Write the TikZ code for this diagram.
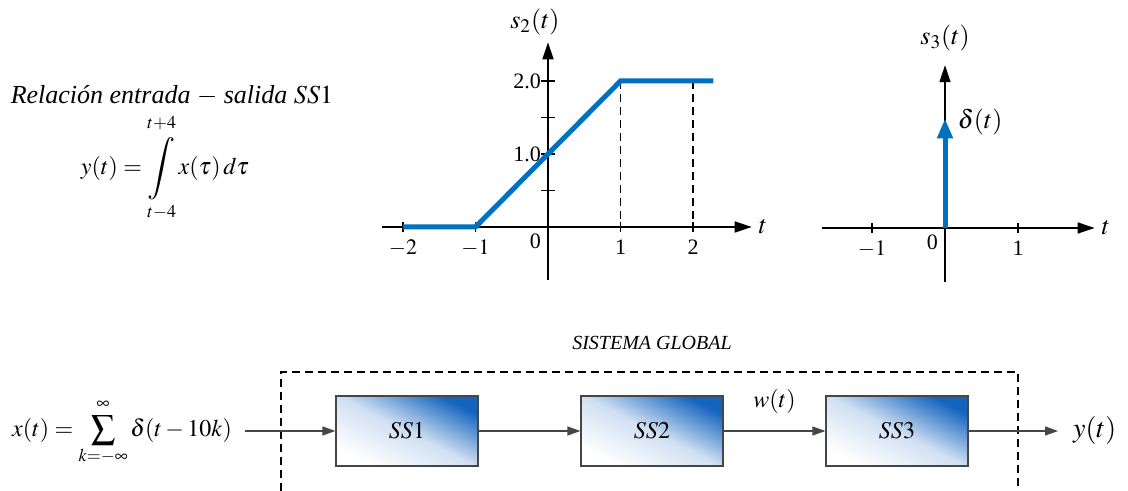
\documentclass[tikz,border=0pt]{standalone}
\usepackage{mathptmx}
\usepackage[no-math]{fontspec}
\setmainfont{Liberation Serif}
\usetikzlibrary{arrows.meta}
\definecolor{sigblue}{RGB}{0,112,192}
\definecolor{boxblue}{RGB}{20,100,190}
\definecolor{linegray}{RGB}{70,70,70}
\newcommand{\bigint}{\mathop{\vcenter{\hbox{\scalebox{1.3}{$\displaystyle\int$}}}}\limits}

\begin{document}
\begin{tikzpicture}[x=0.5pt, y=0.5pt, font=\fontsize{12}{14}\selectfont,
    axis/.style={line width=0.75pt, -{Triangle[length=8.5pt, width=5.5pt]}},
    tick/.style={line width=0.6pt},
    tlabel/.style={font=\fontsize{11}{13}\selectfont},
    flabel/.style={font=\fontsize{13}{15}\selectfont},
    signal/.style={sigblue, line width=2.5pt},
    guide/.style={line width=0.6pt, dash pattern=on 4pt off 2.5pt},
    ssblock/.style={draw=linegray, line width=0.6pt, minimum width=71pt, minimum height=35pt,
        top color=boxblue, bottom color=white, middle color=boxblue!20!white, shading angle=-27},
    conn/.style={linegray, line width=0.6pt, -{Triangle[length=6.5pt, width=4.5pt]}}]
    \useasboundingbox (0,0) rectangle (1128,491);
    % relacion entrada - salida de SS1
    \node[font=\fontsize{13}{15}\selectfont] (rel) at (172,395) {\itshape Relación entrada $-$ salida $SS1$};
    \node (eq) at (165,323) {$\displaystyle y(t)=\bigint_{\rule{0pt}{7pt}t-4}^{t+4\rule[-3pt]{0pt}{3pt}} x(\tau)\,d\tau$};
    % respuesta s2(t)
    \begin{scope}[shift={(548,264)}, x=36.25pt, y=36.5pt]
        \draw[axis] (-2.29,0) -- (2.81,0) coordinate (s2t);
        \draw[axis] (0,-0.73) -- (0,2.53) coordinate (s2y);
        \foreach \v in {0.5,1,1.5,2} \draw[tick] (-0.1,\v) -- (0.1,\v);
        \foreach \u in {-2,-1,1,2} \draw[tick] (\u,-0.07) -- (\u,0.07);
        \draw[guide] (1,2) -- (1,0) (2,2) -- (2,0);
        \draw[signal] (-2,0) -- (-1,0) -- (1,2) -- (2.28,2);
        \node[tlabel, left] (s2v2) at (0,2) {2.0};
        \node[tlabel, left] (s2v1) at (0,1) {1.0};
        \node[tlabel, below left] (s2o) at (0,0) {0};
        \foreach \u/\lab in {-2/$-2$, -1/$-1$, 1/1, 2/2}
            \node[tlabel, below=3pt] (s2x\u) at (\u,0) {\lab};
        \node[flabel] (s2name) at (-0.18,2.81) {$s_2(t)$};
        \node[flabel, right] (s2tl) at (s2t) {$t$};
    \end{scope}
    % respuesta s3(t)
    \begin{scope}[shift={(945,263)}, x=36.5pt, y=36.5pt]
        \draw[axis] (-1.68,0) -- (2.05,0) coordinate (s3t);
        \draw[axis] (0,-0.74) -- (0,2.23) coordinate (s3y);
        \foreach \u in {-1,1} \draw[tick] (\u,-0.07) -- (\u,0.07);
        \draw[signal, -{Triangle[length=10pt, width=7.5pt]}] (0,0) -- (0,1.5);
        \node[tlabel, below left] (s3o) at (0,0) {0};
        \foreach \u/\lab in {-1/$-1$, 1/1}
            \node[tlabel, below=3pt] (s3x\u) at (\u,0) {\lab};
        \node[flabel] (s3name) at (0,2.6) {$s_3(t)$};
        \node[flabel] (delta) at (0.48,1.45) {$\delta(t)$};
        \node[flabel, right] (s3tl) at (s3t) {$t$};
    \end{scope}
    % sistema global
    \node (sglobal) at (652,148) {\fontsize{10}{12}\selectfont\itshape SISTEMA GLOBAL};
    \draw[guide, line width=0.65pt] (281,0) -- (281,119) -- (1018,119) -- (1018,0);
    \node[ssblock] (ss1) at (407,60) {$SS1$};
    \node[ssblock] (ss2) at (652,60) {$SS2$};
    \node[ssblock] (ss3) at (897,60) {$SS3$};
    \node (xin) at (122,59) {$x(t)=\displaystyle\sum_{k=-\infty}^{\infty\rule[-2pt]{0pt}{2pt}}\delta(t-10k)$};
    \node[right, font=\fontsize{14}{16}\selectfont] (yout) at (1066,60) {$y(t)$};
    % flechas
    \draw[conn, shorten <=3pt] (xin.east |- ss1) -- (ss1);
    \draw[conn] (ss1) -- (ss2);
    \draw[conn] (ss2) -- node[above=5pt, text=black] (wlab) {$w(t)$} (ss3);
    \draw[conn, shorten >=4pt] (ss3) -- (yout);
\end{tikzpicture}
\end{document}
